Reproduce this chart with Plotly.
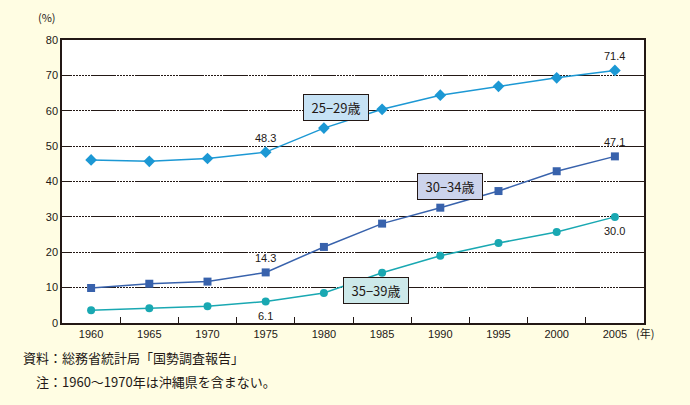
import plotly.graph_objects as go

years = ["1960", "1965", "1970", "1975", "1980", "1985", "1990", "1995", "2000", "2005"]
age_25_29 = [46.1, 45.7, 46.5, 48.3, 55.1, 60.4, 64.4, 66.9, 69.3, 71.4]
age_30_34 = [9.9, 11.1, 11.7, 14.3, 21.5, 28.1, 32.6, 37.3, 42.9, 47.1]
age_35_39 = [3.6, 4.2, 4.7, 6.1, 8.5, 14.2, 19.0, 22.6, 25.7, 30.0]
series_names = ["25−29歳", "30−34歳", "35−39歳"]

TXT = "#231815"
FONT = "Liberation Sans, Arial, sans-serif"
JFONT = "Noto Sans CJK JP, sans-serif"

fig = go.Figure()
fig.add_trace(go.Scatter(x=years, y=age_25_29, mode="lines+markers", name=series_names[0],
                         line=dict(color="#1c98d4", width=1.5),
                         marker=dict(symbol="diamond", size=9, color="#1c98d4")))
fig.add_trace(go.Scatter(x=years, y=age_30_34, mode="lines+markers", name=series_names[1],
                         line=dict(color="#3862ac", width=1.5),
                         marker=dict(symbol="square", size=8, color="#3862ac")))
fig.add_trace(go.Scatter(x=years, y=age_35_39, mode="lines+markers", name=series_names[2],
                         line=dict(color="#19a8b2", width=1.5),
                         marker=dict(symbol="circle", size=8, color="#19a8b2")))

grid_dash = "10px,1px,2px,1px,2px,1px,2px,1px,2px,1px,2px,1px,2px,1px,15px,0px"

fig.update_layout(
    width=690, height=405,
    margin=dict(l=62, r=46, t=40, b=82),
    paper_bgcolor="#fffde3",
    plot_bgcolor="#ffffff",
    showlegend=False,
    font=dict(family=FONT, size=11, color=TXT),
)
fig.update_xaxes(
    type="category", range=[-0.5, 9.5],
    showline=True, linecolor=TXT, linewidth=1.5, mirror=True,
    ticks="inside", tickson="boundaries", ticklen=6, tickcolor=TXT, tickwidth=1,
    showgrid=False, tickfont=dict(size=11, family=FONT, color=TXT),
)
fig.update_yaxes(
    range=[0, 80], dtick=10,
    showline=True, linecolor=TXT, linewidth=1.5, mirror=True,
    ticks="", showgrid=True, gridcolor=TXT, gridwidth=1, griddash=grid_dash,
    zeroline=False, tickfont=dict(size=11, family=FONT, color=TXT),
)

# data value labels (yshift positive = up)
val_labels = [
    (3, age_25_29[3], "48.3", 0, 14),
    (9, age_25_29[9], "71.4", 0, 14),
    (9, age_30_34[9], "47.1", 0, 14),
    (3, age_30_34[3], "14.3", 0, 14),
    (3, age_35_39[3], "6.1", 0, -15),
    (9, age_35_39[9], "30.0", 0, -14),
]
for xi, yv, t, dx, dy in val_labels:
    fig.add_annotation(x=xi, y=yv, xref="x", yref="y", text=t, showarrow=False,
                       xanchor="center", yanchor="middle",
                       xshift=dx, yshift=dy, font=dict(size=11, family=FONT, color=TXT))

# series label boxes
boxes = [
    (4.21, 60.9, series_names[0], "#c6e2f5"),
    (6.17, 38.5, series_names[1], "#ccd3ec"),
    (4.9, 9.2, series_names[2], "#cde9ea"),
]
for xb, yb, t, fc in boxes:
    fig.add_annotation(x=xb, y=yb, xref="x", yref="y", text=t, showarrow=False,
                       xanchor="center", yanchor="middle",
                       bgcolor=fc, bordercolor=TXT, borderwidth=1, borderpad=3,
                       width=58, font=dict(size=13, family=JFONT, color=TXT))

def px_x(px):
    return (px - 62) / 582

def px_y(py):
    return (323 - py) / 283

# axis unit labels
fig.add_annotation(x=px_x(47), y=px_y(17), xref="paper", yref="paper", text="(%)",
                   showarrow=False, xanchor="center", yanchor="middle",
                   font=dict(size=11, family=JFONT, color=TXT))
fig.add_annotation(x=px_x(645), y=px_y(333), xref="paper", yref="paper", text="(年)",
                   showarrow=False, xanchor="center", yanchor="middle",
                   font=dict(size=11, family=JFONT, color=TXT))

# footnotes
fig.add_annotation(x=px_x(21), y=px_y(357), xref="paper", yref="paper",
                   xanchor="left", yanchor="middle", text="資料：総務省統計局「国勢調査報告」",
                   showarrow=False, font=dict(size=13, family=JFONT, color=TXT))
fig.add_annotation(x=px_x(34), y=px_y(381), xref="paper", yref="paper",
                   xanchor="left", yanchor="middle", text="注：1960〜1970年は沖縄県を含まない。",
                   showarrow=False, font=dict(size=13, family=JFONT, color=TXT))

fig.write_html("out.html")
